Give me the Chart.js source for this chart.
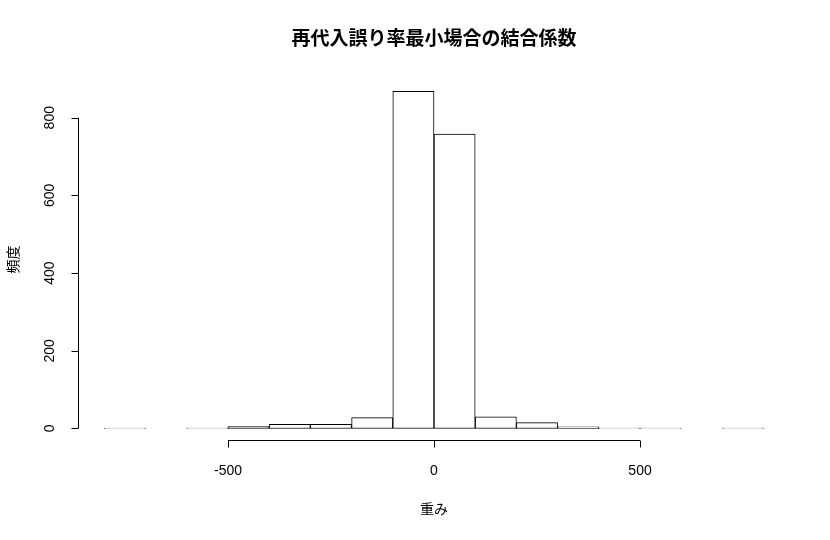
<!DOCTYPE html>
<html>
<head>
<meta charset="utf-8">
<script src="https://cdn.jsdelivr.net/npm/chart.js@4"></script>
<style>
  html, body { margin: 0; padding: 0; background: #fff; }
  #wrap { width: 830px; height: 540px; }
</style>
</head>
<body>
<div id="wrap"><canvas id="hist" width="830" height="540"></canvas></div>
<script>
// histogram bins (width 100) and counts
var binStarts = [-800, -700, -600, -500, -400, -300, -200, -100, 0, 100, 200, 300, 400, 500, 600, 700];
var counts = [1, 0, 1, 5, 11, 11, 28, 868, 758, 30, 15, 4, 1, 1, 0, 1];
var binWidth = 100;
var xTicks = [-500, 0, 500];
var yTicks = [0, 200, 400, 600, 800];

var titleText = '再代入誤り率最小場合の結合係数';
var xLabel = '重み';
var yLabel = '頻度';

var fontFamily = '"Liberation Sans", "Noto Sans CJK JP", sans-serif';

var points = binStarts.map(function (s, i) {
    return { x: s + binWidth / 2, y: counts[i] };
});

// R-like axes, title and labels drawn through the chart's scales
var rAxes = {
    id: 'rAxes',
    afterDraw: function (chart) {
        var ctx = chart.ctx;
        var xs = chart.scales.x;
        var ys = chart.scales.y;
        var area = chart.chartArea;
        ctx.save();
        ctx.strokeStyle = '#000';
        ctx.fillStyle = '#000';
        ctx.lineWidth = 1;

        // x axis
        var axY = Math.round(area.bottom) - 1.5;
        var x0 = xs.getPixelForValue(xTicks[0]);
        var x1 = xs.getPixelForValue(xTicks[xTicks.length - 1]);
        ctx.beginPath();
        ctx.moveTo(x0, axY);
        ctx.lineTo(x1, axY);
        xTicks.forEach(function (t) {
            var px = Math.round(xs.getPixelForValue(t)) + 0.5;
            ctx.moveTo(px, axY);
            ctx.lineTo(px, axY + 7);
        });
        ctx.stroke();
        ctx.font = '14px ' + fontFamily;
        ctx.textAlign = 'center';
        ctx.textBaseline = 'middle';
        xTicks.forEach(function (t) {
            ctx.fillText(String(t), xs.getPixelForValue(t), 471);
        });

        // y axis
        var axX = Math.round(area.left) + 0.5;
        var y0 = ys.getPixelForValue(yTicks[0]);
        var y1 = ys.getPixelForValue(yTicks[yTicks.length - 1]);
        ctx.beginPath();
        ctx.moveTo(axX, y0);
        ctx.lineTo(axX, y1);
        yTicks.forEach(function (t) {
            var py = Math.round(ys.getPixelForValue(t)) + 0.5;
            ctx.moveTo(axX, py);
            ctx.lineTo(axX - 7, py);
        });
        ctx.stroke();
        yTicks.forEach(function (t) {
            ctx.save();
            ctx.translate(50, ys.getPixelForValue(t));
            ctx.rotate(-Math.PI / 2);
            ctx.fillText(String(t), 0, 0);
            ctx.restore();
        });

        // title
        ctx.font = 'bold 19px ' + fontFamily;
        ctx.fillText(titleText, (area.left + area.right) / 2, 40);

        // axis labels
        ctx.font = '14px ' + fontFamily;
        ctx.fillText(xLabel, (area.left + area.right) / 2, 510);
        ctx.save();
        ctx.translate(14, (area.top + area.bottom) / 2);
        ctx.rotate(-Math.PI / 2);
        ctx.fillText(yLabel, 0, 0);
        ctx.restore();
        ctx.restore();
    }
};

new Chart(document.getElementById('hist'), {
    type: 'bar',
    data: {
        datasets: [{
            label: yLabel,
            data: points,
            backgroundColor: '#ffffff',
            borderColor: '#000000',
            borderWidth: 1,
            borderSkipped: false,
            barPercentage: 1,
            categoryPercentage: 1
        }]
    },
    options: {
        responsive: false,
        animation: false,
        layout: { padding: { left: 78, right: 40, top: 77, bottom: 98 } },
        plugins: {
            legend: { display: false },
            tooltip: { enabled: false }
        },
        scales: {
            x: {
                type: 'linear',
                display: false,
                offset: false,
                min: -864,
                max: 864
            },
            y: {
                display: false,
                min: -34.8,
                max: 904.8
            }
        }
    },
    plugins: [rAxes]
});
</script>
</body>
</html>
